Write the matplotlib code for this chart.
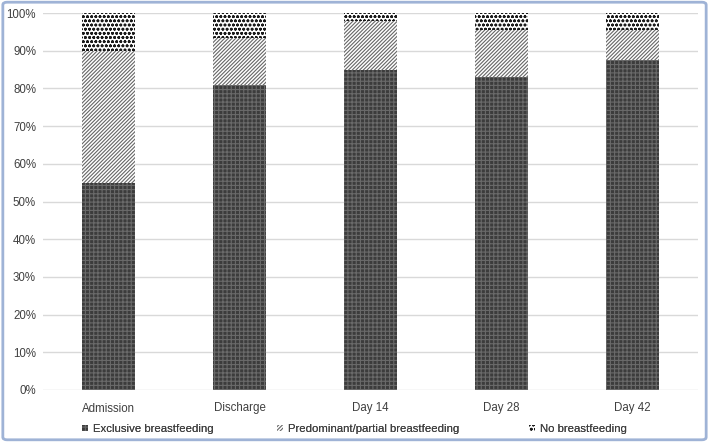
import matplotlib
matplotlib.use("Agg")
import matplotlib.pyplot as plt
from matplotlib.patches import FancyBboxPatch, Patch
from matplotlib.ticker import PercentFormatter

categories = ["Admission", "Discharge", "Day 14", "Day 28", "Day 42"]
exclusive = [55.0, 81.0, 85.0, 83.0, 87.5]
predominant = [35.0, 12.5, 13.0, 12.5, 8.0]
no_bf = [10.0, 6.5, 2.0, 4.5, 4.5]
series_labels = ["Exclusive breastfeeding", "Predominant/partial breastfeeding", "No breastfeeding"]
yticks = [0, 10, 20, 30, 40, 50, 60, 70, 80, 90, 100]

plt.rcParams['font.family'] = ['Liberation Sans', 'DejaVu Sans']
plt.rcParams['hatch.linewidth'] = 0.8

fig = plt.figure(figsize=(7.09, 4.42), dpi=100)
ax = fig.add_axes([43/709, 1-390/442, 655/709, 377/442])

x = list(range(len(categories)))
w = 0.4
styles = [
    dict(facecolor="#3c3c3c", edgecolor="#6a6a6a", hatch="++++"),
    dict(facecolor="white", edgecolor="#666666", hatch="/"*9),
    dict(facecolor="white", edgecolor="#1a1a1a", hatch="oooo"),
]
bottoms = [0]*len(categories)
handles = []
for vals, st, lab in zip([exclusive, predominant, no_bf], styles, series_labels):
    ax.bar(x, vals, w, bottom=bottoms, linewidth=0, zorder=3, **st)
    bottoms = [b+v for b, v in zip(bottoms, vals)]
    handles.append(Patch(linewidth=0, label=lab, **st))

ax.set_xlim(-0.5, len(categories)-0.5)
ax.set_ylim(0, 100)
ax.set_yticks(yticks)
ax.yaxis.set_major_formatter(PercentFormatter(decimals=0))
ax.set_xticks(x)
ax.set_xticklabels(categories)
ax.grid(axis='y', color="#d9d9d9", linewidth=1, zorder=0)
for s in ax.spines.values():
    s.set_visible(False)
ax.tick_params(axis='both', length=0, colors="#595959", labelsize=8.3)
ax.tick_params(axis='y', pad=5)
ax.tick_params(axis='x', pad=9)
for lbl in ax.get_xticklabels() + ax.get_yticklabels():
    lbl.set_color("#404040")

legend_x = [82, 277, 529]
for h, lx in zip(handles, legend_x):
    leg = fig.legend(handles=[h], loc='center left', bbox_to_anchor=(lx/709, 1-429/442),
                     frameon=False, fontsize=8.2, handlelength=0.55, handleheight=0.55,
                     handletextpad=0.45, borderpad=0, borderaxespad=0, labelcolor="#404040")
    fig.add_artist(leg)

border = FancyBboxPatch((0.004, 0.005), 0.992, 0.99, boxstyle="round,pad=0,rounding_size=0.006",
                        transform=fig.transFigure, fill=False, edgecolor="#9fb3d6", linewidth=2)
fig.patches.append(border)

fig.savefig("out.png", dpi=100)
